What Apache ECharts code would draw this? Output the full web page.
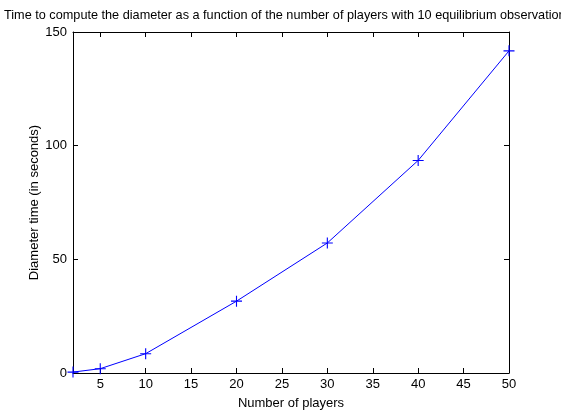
<!DOCTYPE html>
<html>
<head>
<meta charset="utf-8">
<script src="https://cdn.jsdelivr.net/npm/echarts@6/dist/echarts.min.js"></script>
<style>
  html, body { margin: 0; padding: 0; background: #fff; }
  #chart { width: 561px; height: 420px; }
</style>
</head>
<body>
<div id="chart"></div>
<script>
// data
var players = [2, 5, 10, 20, 30, 40, 50];
var diameterTime = [0.4, 1.9, 8.5, 31.6, 57.2, 93.5, 141.7];
var xTicks = [5, 10, 15, 20, 25, 30, 35, 40, 45, 50];
var yTicks = [0, 50, 100, 150];

var chart = echarts.init(document.getElementById('chart'));
var font = 'Liberation Sans, Arial, sans-serif';

var boxX = {
    type: 'value', min: 2, max: 50,
    axisLine: { show: true, onZero: false, lineStyle: { color: '#000', width: 1 } },
    axisTick: { show: true, inside: true, length: 5, customValues: xTicks, lineStyle: { color: '#000' } },
    splitLine: { show: false }
};
var boxY = {
    type: 'value', min: 0, max: 150, interval: 50,
    axisLine: { show: true, onZero: false, lineStyle: { color: '#000', width: 1 } },
    axisTick: { show: true, inside: true, length: 5, customValues: yTicks, lineStyle: { color: '#000' } },
    splitLine: { show: false }
};

var option = {
    backgroundColor: '#fff',
    animation: false,
    title: {
        text: 'Time to compute the diameter as a function of the number of players with 10 equilibrium observations',
        left: -1, top: 4,
        textStyle: { fontFamily: font, fontSize: 12.7, fontWeight: 'normal', color: '#000' }
    },
    grid: { left: 73, right: 52, top: 32, bottom: 47 },
    xAxis: [
        Object.assign({}, boxX, {
            position: 'bottom',
            name: 'Number of players', nameLocation: 'middle', nameGap: 24,
            nameMoveOverlap: false,
            nameTextStyle: { fontFamily: font, fontSize: 13, color: '#000' },
            axisLabel: { show: true, customValues: xTicks, margin: 5, fontFamily: font, fontSize: 13, color: '#000' }
        }),
        Object.assign({}, boxX, { position: 'top', axisLabel: { show: false } })
    ],
    yAxis: [
        Object.assign({}, boxY, {
            position: 'left',
            name: 'Diameter time (in seconds)', nameLocation: 'middle', nameGap: 32,
            nameMoveOverlap: false,
            nameTextStyle: { fontFamily: font, fontSize: 13, color: '#000' },
            axisLabel: { show: true, customValues: yTicks, margin: 6, fontFamily: font, fontSize: 13, color: '#000' }
        }),
        Object.assign({}, boxY, { position: 'right', axisLabel: { show: false } })
    ],
    series: [{
        type: 'line',
        data: players.map(function (p, i) { return [p, diameterTime[i]]; }),
        symbol: 'path://M4.5,0h1v10h-1z M0,4.5h10v1h-10z',
        symbolSize: 11,
        showAllSymbol: true,
        clip: false,
        lineStyle: { color: '#0000ff', width: 1 },
        itemStyle: { color: '#0000ff' }
    }]
};
chart.setOption(option);
</script>
</body>
</html>
